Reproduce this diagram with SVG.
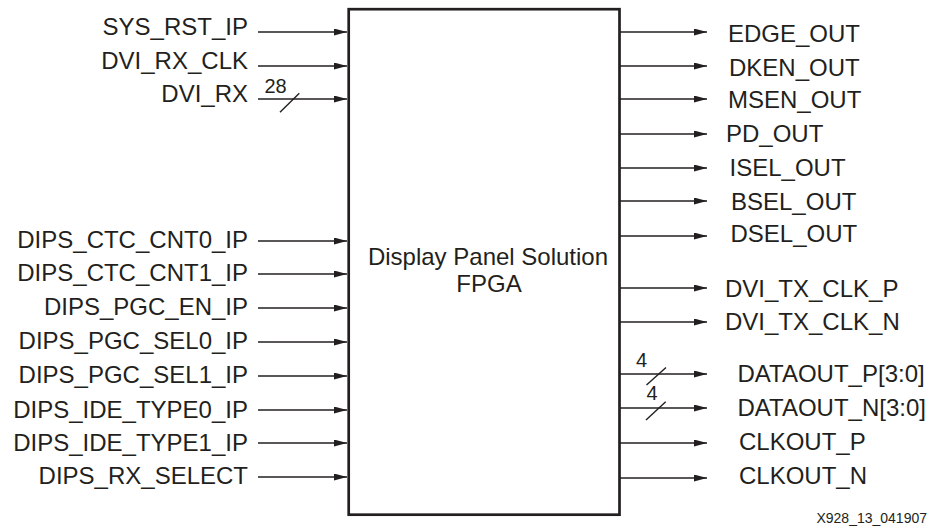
<svg xmlns="http://www.w3.org/2000/svg" width="935" height="527" viewBox="0 0 935 527">
<defs>
<marker id="arr" markerUnits="userSpaceOnUse" markerWidth="14" markerHeight="8" refX="13" refY="3.5" orient="auto">
<path d="M0,0 L13,3.5 L0,7 z" fill="#231f20"/>
</marker>
<style>
text{font-family:"Liberation Sans",Arial,Helvetica,sans-serif;fill:#231f20}
.lbl{font-size:24px}
.in{text-anchor:end}
.num{font-size:20px}
.ln{stroke:#231f20;stroke-width:1.4;fill:none}
.arr{marker-end:url(#arr)}
.box{fill:#fff;stroke:#231f20;stroke-width:2.7}
</style>
</defs>
<rect width="935" height="527" fill="#fff"/>
<g id="connectors">
<line class="ln arr" x1="258" y1="32" x2="347" y2="32"/>
<line class="ln arr" x1="258" y1="66" x2="347" y2="66"/>
<line class="ln arr" x1="258" y1="99" x2="347" y2="99"/>
<line class="ln" x1="280" y1="112.3" x2="299.3" y2="93.3"/>
<line class="ln arr" x1="258" y1="241" x2="347" y2="241"/>
<line class="ln arr" x1="258" y1="274" x2="347" y2="274"/>
<line class="ln arr" x1="258" y1="308" x2="347" y2="308"/>
<line class="ln arr" x1="258" y1="342" x2="347" y2="342"/>
<line class="ln arr" x1="258" y1="376" x2="347" y2="376"/>
<line class="ln arr" x1="258" y1="410" x2="347" y2="410"/>
<line class="ln arr" x1="258" y1="443" x2="347" y2="443"/>
<line class="ln arr" x1="258" y1="477" x2="347" y2="477"/>
<line class="ln arr" x1="620" y1="32" x2="707" y2="32"/>
<line class="ln arr" x1="620" y1="66" x2="707" y2="66"/>
<line class="ln arr" x1="620" y1="99" x2="707" y2="99"/>
<line class="ln arr" x1="620" y1="134" x2="707" y2="134"/>
<line class="ln arr" x1="620" y1="168" x2="707" y2="168"/>
<line class="ln arr" x1="620" y1="201" x2="707" y2="201"/>
<line class="ln arr" x1="620" y1="236" x2="707" y2="236"/>
<line class="ln arr" x1="620" y1="288" x2="707" y2="288"/>
<line class="ln arr" x1="620" y1="322" x2="707" y2="322"/>
<line class="ln arr" x1="620" y1="374" x2="707" y2="374"/>
<line class="ln" x1="646.5" y1="385" x2="666" y2="367.5"/>
<line class="ln arr" x1="620" y1="408" x2="707" y2="408"/>
<line class="ln" x1="646" y1="420" x2="665.7" y2="401.7"/>
<line class="ln arr" x1="620" y1="443" x2="707" y2="443"/>
<line class="ln arr" x1="620" y1="478" x2="707" y2="478"/>
<text class="num" x="264.5" y="93">28</text>
<text class="num" x="636" y="366.5">4</text>
<text class="num" x="646.5" y="400">4</text>
</g>
<g id="fpga">
<rect class="box" x="348.7" y="9.2" width="270.8" height="505.5"/>
<text class="lbl" x="488" y="265" text-anchor="middle">Display Panel Solution</text>
<text class="lbl" x="489" y="291.5" text-anchor="middle">FPGA</text>
</g>
<g id="in_sys_rst_ip"><text class="lbl in" x="248" y="34.8">SYS_RST_IP</text></g>
<g id="in_dvi_rx_clk"><text class="lbl in" x="248" y="68.5">DVI_RX_CLK</text></g>
<g id="in_dvi_rx"><text class="lbl in" x="248" y="101.8">DVI_RX</text></g>
<g id="in_ctc_cnt0"><text class="lbl in" x="248" y="248">DIPS_CTC_CNT0_IP</text></g>
<g id="in_ctc_cnt1"><text class="lbl in" x="248" y="281">DIPS_CTC_CNT1_IP</text></g>
<g id="in_pgc_en"><text class="lbl in" x="248" y="315">DIPS_PGC_EN_IP</text></g>
<g id="in_pgc_sel0"><text class="lbl in" x="248" y="348.5">DIPS_PGC_SEL0_IP</text></g>
<g id="in_pgc_sel1"><text class="lbl in" x="248" y="383.3">DIPS_PGC_SEL1_IP</text></g>
<g id="in_ide_type0"><text class="lbl in" x="248" y="418">DIPS_IDE_TYPE0_IP</text></g>
<g id="in_ide_type1"><text class="lbl in" x="248" y="450.7">DIPS_IDE_TYPE1_IP</text></g>
<g id="in_rx_select"><text class="lbl in" x="248" y="484">DIPS_RX_SELECT</text></g>
<g id="out_edge"><text class="lbl" x="728" y="42">EDGE_OUT</text></g>
<g id="out_dken"><text class="lbl" x="729" y="76">DKEN_OUT</text></g>
<g id="out_msen"><text class="lbl" x="728" y="108.3">MSEN_OUT</text></g>
<g id="out_pd"><text class="lbl" x="726" y="141.7">PD_OUT</text></g>
<g id="out_isel"><text class="lbl" x="729.5" y="175.7">ISEL_OUT</text></g>
<g id="out_bsel"><text class="lbl" x="731" y="210">BSEL_OUT</text></g>
<g id="out_dsel"><text class="lbl" x="730.5" y="242.3">DSEL_OUT</text></g>
<g id="out_dvi_tx_clk_p"><text class="lbl" x="725" y="297.3">DVI_TX_CLK_P</text></g>
<g id="out_dvi_tx_clk_n"><text class="lbl" x="725" y="330">DVI_TX_CLK_N</text></g>
<g id="out_dataout_p"><text class="lbl" x="737.5" y="381.7">DATAOUT_P[3:0]</text></g>
<g id="out_dataout_n"><text class="lbl" x="737.5" y="416">DATAOUT_N[3:0]</text></g>
<g id="out_clkout_p"><text class="lbl" x="739" y="450">CLKOUT_P</text></g>
<g id="out_clkout_n"><text class="lbl" x="739" y="484">CLKOUT_N</text></g>
<text x="927" y="523" font-size="14" text-anchor="end">X928_13_041907</text>
</svg>
